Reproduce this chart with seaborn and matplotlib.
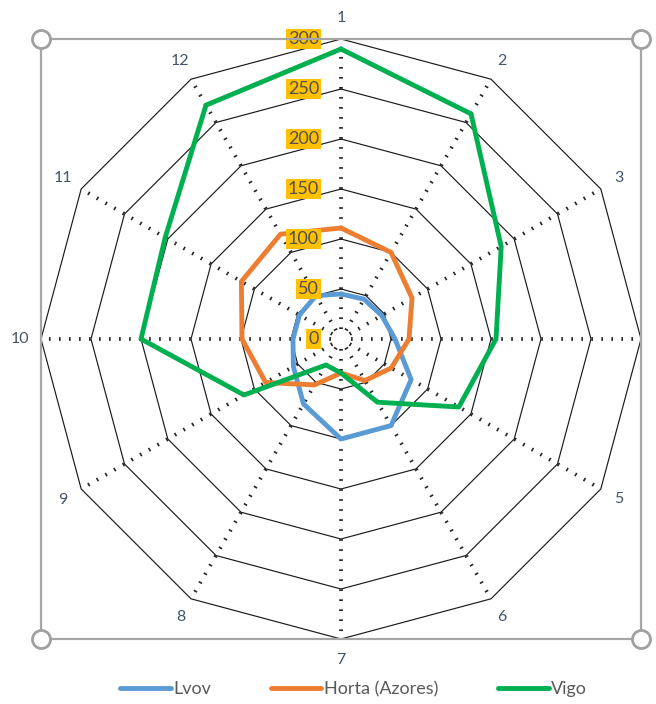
import numpy as np
import matplotlib
matplotlib.use('Agg')
import matplotlib.pyplot as plt
import seaborn as sns
from matplotlib.lines import Line2D
from matplotlib.patches import Rectangle

# ---- data ----
categories = [str(i) for i in range(1, 13)]
lvov = [45, 46, 47, 54, 81, 100, 100, 75, 55, 48, 48, 50]
horta = [111, 100, 82, 68, 58, 48, 34, 53, 87, 99, 115, 121]
vigo = [290, 260, 185, 155, 136, 73, 34, 30, 112, 200, 203, 270]
series_names = ['Lvov', 'Horta (Azores)', 'Vigo']
series_colors = ['#5B9BD5', '#ED7D31', '#00B050']
r_ticks = [0, 50, 100, 150, 200, 250, 300]

sns.set_theme(style='white')
plt.rcParams['font.family'] = ['Lato', 'DejaVu Sans']

W, H = 656, 704
fig = plt.figure(figsize=(W / 100, H / 100), dpi=100)
cx, cy, R = 341, 339, 300
ax = fig.add_axes([(cx - R) / W, (H - cy - R) / H, 2 * R / W, 2 * R / H], projection='polar')
ax.set_theta_zero_location('N')
ax.set_theta_direction(-1)
ax.grid(False)
ax.spines['polar'].set_visible(False)
ax.patch.set_alpha(0)

n = len(categories)
theta = np.arange(n) * 2 * np.pi / n
theta_c = np.append(theta, 2 * np.pi)
rmax = r_ticks[-1]

# ring gridlines (polygons)
for rv in r_ticks[1:]:
    ax.plot(theta_c, [rv] * (n + 1), color='#1a1a1a', lw=0.85, clip_on=False, zorder=1)
# dotted spokes
for t in theta:
    ax.plot([t, t], [10, rmax], color='#262626', lw=2.7, linestyle=(0, (0.45, 2.22)),
            dash_capstyle='butt', zorder=1, clip_on=False)

# series
for name, vals, col in zip(series_names, [lvov, horta, vigo], series_colors):
    sns.lineplot(x=theta_c, y=np.append(vals, vals[0]), ax=ax, color=col, lw=3.5,
                 sort=False, legend=False, zorder=3)
for ln in ax.lines[-3:]:
    ln.set_solid_joinstyle('round')
    ln.set_clip_on(False)

# value labels
for rv in r_ticks:
    ax.annotate(str(rv), xy=(0, rv), xytext=(-22 * 0.72, 0), textcoords='offset points',
                ha='right', va='center', fontsize=13, color='#505050',
                bbox=dict(boxstyle='square,pad=0.12', fc='#FFC000', ec='none'),
                zorder=5, annotation_clip=False)

# category labels
for t, c in zip(theta, categories):
    ax.text(t, 321, c, ha='center', va='center', fontsize=11.5, color='#44546A', clip_on=False)

# selection frame with handles
ax.add_patch(Rectangle((0, 0), 1, 1, transform=ax.transAxes, fill=False, ec='#A6A6A6',
                       lw=1.6, clip_on=False, zorder=6))
ax.plot([0, 1, 0, 1], [0, 0, 1, 1], transform=ax.transAxes, ls='none', marker='o', ms=13,
        mfc='white', mec='#A0A0A0', mew=2, clip_on=False, zorder=7)

ax.set_xticks([])
ax.set_yticks([])
ax.set_xlabel('')
ax.set_ylabel('')
ax.set_ylim(0, rmax)

handles = [Line2D([], [], color=c, lw=3.5) for c in series_colors]
fig.legend(handles, series_names, loc='center', bbox_to_anchor=(0.539, 1 - 689 / H), ncol=3,
           frameon=False, fontsize=13, handlelength=2.8, handletextpad=0.15,
           columnspacing=3.3, labelcolor='#595959')

fig.savefig('out.png', dpi=100)
